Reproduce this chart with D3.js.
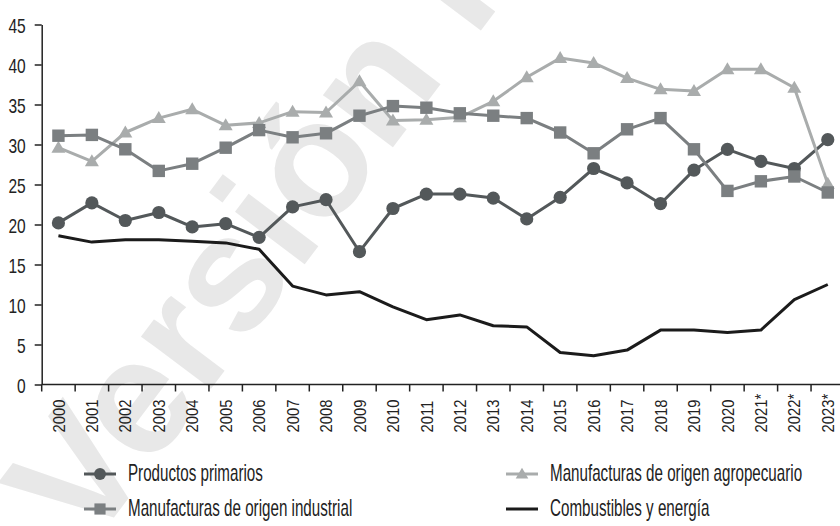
<!DOCTYPE html>
<html>
<head>
<meta charset="utf-8">
<script src="https://cdn.jsdelivr.net/npm/d3@7"></script>
<style>
  html, body { margin: 0; padding: 0; background: #fff; }
  svg { display: block; }
  text { font-family: "Liberation Sans", Arial, sans-serif; }
</style>
</head>
<body>
<svg id="chart" width="840" height="526"></svg>
<script>
// Years on the horizontal axis (starred years are provisional)
const years = ["2000","2001","2002","2003","2004","2005","2006","2007","2008","2009","2010","2011",
               "2012","2013","2014","2015","2016","2017","2018","2019","2020","2021*","2022*","2023*"];

// Share of exports by category (%)
const productosPrimarios = [20.2,22.7,20.5,21.5,19.7,20.1,18.4,22.2,23.1,16.6,22.0,23.8,
                            23.8,23.3,20.7,23.4,27.0,25.2,22.6,26.8,29.4,27.9,27.0,30.6];
const manufIndustrial    = [31.1,31.2,29.4,26.7,27.6,29.6,31.8,30.9,31.4,33.6,34.8,34.6,
                            33.9,33.6,33.3,31.5,28.9,31.9,33.3,29.4,24.2,25.4,26.0,24.0];
const manufAgropecuario  = [29.6,27.9,31.5,33.3,34.4,32.4,32.7,34.1,34.0,37.9,33.0,33.1,
                            33.4,35.4,38.4,40.8,40.2,38.3,36.9,36.7,39.4,39.4,37.1,25.1];
const combustibles       = [18.6,17.8,18.1,18.1,17.9,17.7,16.9,12.3,11.2,11.6,9.7,8.1,
                            8.7,7.35,7.2,4.0,3.6,4.3,6.8,6.8,6.5,6.8,10.6,12.5];

const yTicks = [0,5,10,15,20,25,30,35,40,45];

const seriesNames = ["Productos primarios","Manufacturas de origen agropecuario",
                     "Manufacturas de origen industrial","Combustibles y energía"];

const svg = d3.select("#chart");

// Squeeze text horizontally to get a condensed face
function condense(sel, k) {
  sel.each(function() {
    const len = this.getComputedTextLength();
    d3.select(this).attr("textLength", len * k).attr("lengthAdjust", "spacingAndGlyphs");
  });
}

// Faint diagonal watermark behind the plot
svg.append("text")
  .attr("transform", "translate(88,552) rotate(-53)")
  .attr("font-size", 165)
  .attr("font-weight", "bold")
  .attr("fill", "#e8e8e8")
  .text("Versión Preliminar");

const plotLeft = 41.7, plotTop = 24.5, plotBottom = 384.5, step = 33.45;

const x = d3.scaleBand().domain(years).range([plotLeft, plotLeft + step * years.length]).padding(0);
const y = d3.scaleLinear().domain([0, 45]).range([plotBottom, plotTop]);
const cx = d => x(d) + x.bandwidth() / 2;

// Y axis
const yAxis = svg.append("g")
  .attr("transform", `translate(${plotLeft},0)`)
  .call(d3.axisLeft(y).tickValues(yTicks).tickSize(7).tickPadding(9).tickSizeOuter(0));
yAxis.attr("font-family", null).attr("font-size", null);
yAxis.select(".domain").attr("stroke", "#222").attr("stroke-width", 1.5);
yAxis.selectAll(".tick line").attr("stroke", "#222").attr("stroke-width", 1.5);
yAxis.selectAll(".tick text").attr("font-size", 21).attr("fill", "#222").attr("dy", "0.36em")
  .call(condense, 0.74);

// X axis: labels centred in each band, tick marks on band edges
const xAxis = svg.append("g")
  .attr("transform", `translate(0,${plotBottom})`)
  .call(d3.axisBottom(x).tickSize(0).tickSizeOuter(0));
xAxis.attr("font-family", null).attr("font-size", null);
xAxis.select(".domain").attr("stroke", "#222").attr("stroke-width", 1.5)
  .attr("d", `M${plotLeft},0H840`);
xAxis.selectAll(".tick text")
  .attr("font-size", 17).attr("fill", "#222")
  .attr("x", 0).attr("y", 0).attr("dy", "0.36em")
  .attr("transform", "translate(0,48) rotate(-90)")
  .style("text-anchor", "start")
  .call(condense, 0.87);
xAxis.selectAll(".edge")
  .data(years.concat(["end"]))
  .join("line")
  .attr("class", "edge")
  .attr("x1", (d, i) => plotLeft + i * x.bandwidth())
  .attr("x2", (d, i) => plotLeft + i * x.bandwidth())
  .attr("y1", 0).attr("y2", 7)
  .attr("stroke", "#222").attr("stroke-width", 1.5);

const line = d3.line().x((d, i) => cx(years[i])).y(d => y(d));

const plot = svg.append("g");

// Combustibles y energía: plain black line
plot.append("path").datum(combustibles)
  .attr("d", line).attr("fill", "none")
  .attr("stroke", "#1b1b1b").attr("stroke-width", 3).attr("stroke-linejoin", "round");

const triPath = "M0,-7L7,5L-7,5Z";

function drawSeries(values, color, marker) {
  const g = plot.append("g");
  g.append("path").datum(values)
    .attr("d", line).attr("fill", "none")
    .attr("stroke", color).attr("stroke-width", 3).attr("stroke-linejoin", "round");
  const pts = g.selectAll(".pt").data(values).join("g")
    .attr("class", "pt")
    .attr("transform", (d, i) => `translate(${cx(years[i])},${y(d)})`);
  marker(pts, color);
}

const circleMarker = (sel, c) => sel.append("circle").attr("r", 6.6).attr("fill", c);
const squareMarker = (sel, c) => sel.append("rect").attr("x", -6.2).attr("y", -6.2)
  .attr("width", 12.4).attr("height", 12.4).attr("fill", c);
const triMarker = (sel, c) => sel.append("path").attr("d", triPath).attr("fill", c);

drawSeries(productosPrimarios, "#53585a", circleMarker);
drawSeries(manufAgropecuario, "#a9acac", triMarker);
drawSeries(manufIndustrial, "#7b7f81", squareMarker);

// Legend
const legendItems = [
  { name: seriesNames[0], color: "#53585a", marker: circleMarker, lx: 84, ly: 474 },
  { name: seriesNames[1], color: "#a9acac", marker: triMarker, lx: 506, ly: 474 },
  { name: seriesNames[2], color: "#7b7f81", marker: squareMarker, lx: 84, ly: 509 },
  { name: seriesNames[3], color: "#1b1b1b", marker: null, lx: 506, ly: 509 }
];
const lg = svg.append("g").selectAll("g").data(legendItems).join("g")
  .attr("transform", d => `translate(${d.lx},${d.ly})`);
lg.append("line").attr("x1", 0).attr("x2", 32).attr("y1", 0).attr("y2", 0)
  .attr("stroke", d => d.color).attr("stroke-width", 3);
lg.each(function(d) {
  if (d.marker) {
    const m = d3.select(this).append("g").attr("transform", "translate(16,0) scale(0.9)");
    d.marker(m, d.color);
  }
});
// Legend labels: a narrow horizontal scale gives the condensed look
lg.append("text")
  .attr("transform", "translate(44,7) scale(0.66,1)")
  .attr("font-size", 23).attr("fill", "#222")
  .text(d => d.name);
</script>
</body>
</html>
